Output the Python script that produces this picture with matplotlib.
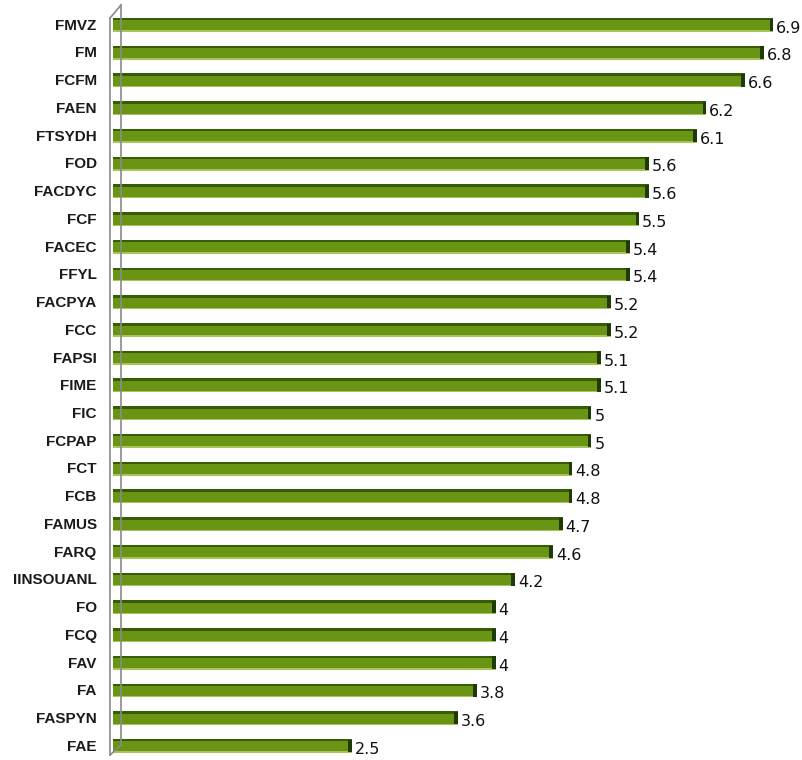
import numpy as np
import matplotlib.pyplot as plt
from matplotlib.lines import Line2D

labels = ["FMVZ", "FM", "FCFM", "FAEN", "FTSYDH", "FOD", "FACDYC", "FCF", "FACEC",
          "FFYL", "FACPYA", "FCC", "FAPSI", "FIME", "FIC", "FCPAP", "FCT", "FCB",
          "FAMUS", "FARQ", "IINSOUANL", "FO", "FCQ", "FAV", "FA", "FASPYN", "FAE"]
values = [6.9, 6.8, 6.6, 6.2, 6.1, 5.6, 5.6, 5.5, 5.4, 5.4, 5.2, 5.2, 5.1, 5.1,
          5, 5, 4.8, 4.8, 4.7, 4.6, 4.2, 4, 4, 4, 3.8, 3.6, 2.5]
value_text = ["6.9", "6.8", "6.6", "6.2", "6.1", "5.6", "5.6", "5.5", "5.4", "5.4",
              "5.2", "5.2", "5.1", "5.1", "5", "5", "4.8", "4.8", "4.7", "4.6",
              "4.2", "4", "4", "4", "3.8", "3.6", "2.5"]

W, H = 803, 760
fig = plt.figure(figsize=(W / 100, H / 100), dpi=100)
fig.patch.set_facecolor("white")

# axes placed in pixel terms
left, right, top, bottom = 113, 802, 8, 757
ax = fig.add_axes([left / W, 1 - bottom / H, (right - left) / W, (bottom - top) / H])
n = len(labels)
pos = np.arange(n)
ax.set_xlim(0, (right - left) / 95.7)
ax.set_ylim(n - 1 + 0.4, -0.61)
ax.axis("off")

bh = 0.5
# body
ax.barh(pos, values, height=bh, color="#6a9414", edgecolor="none", zorder=2)
# darker top face
ax.barh(pos - bh / 2 + 0.045, values, height=0.09, color="#345d06", edgecolor="none", zorder=3)
# lighter lower fringe
ax.barh(pos + bh / 2 - 0.025, values, height=0.05, color="#a6c45a", edgecolor="none", zorder=3)
# dark end cap
ax.barh(pos, [0.04] * n, left=np.array(values) - 0.04, height=bh * 0.9, color="#1f3a05",
        edgecolor="none", zorder=4)

for i, (v, t) in enumerate(zip(values, value_text)):
    ax.text(v + 0.03, i + 0.12, t, va="center", ha="left", fontsize=11.5,
            family="DejaVu Sans", color="#111111")
    ax.text(-0.17, i + 0.03, labels[i], va="center", ha="right", fontsize=11,
            fontweight="bold", family="Liberation Sans", color="#1a1a1a")

# 3D wall
gray = "#8a8a8a"
def px(x, y):
    return (x / W, 1 - y / H)
for (x0, y0), (x1, y1) in [((110, 18), (110, 755)), ((121, 5), (121, 745)),
                           ((110, 18), (121, 5)), ((110, 755), (121, 745))]:
    a, b = px(x0, y0), px(x1, y1)
    fig.add_artist(Line2D([a[0], b[0]], [a[1], b[1]], color=gray, lw=1.2))

fig.savefig("out.png", dpi=100, facecolor="white")
